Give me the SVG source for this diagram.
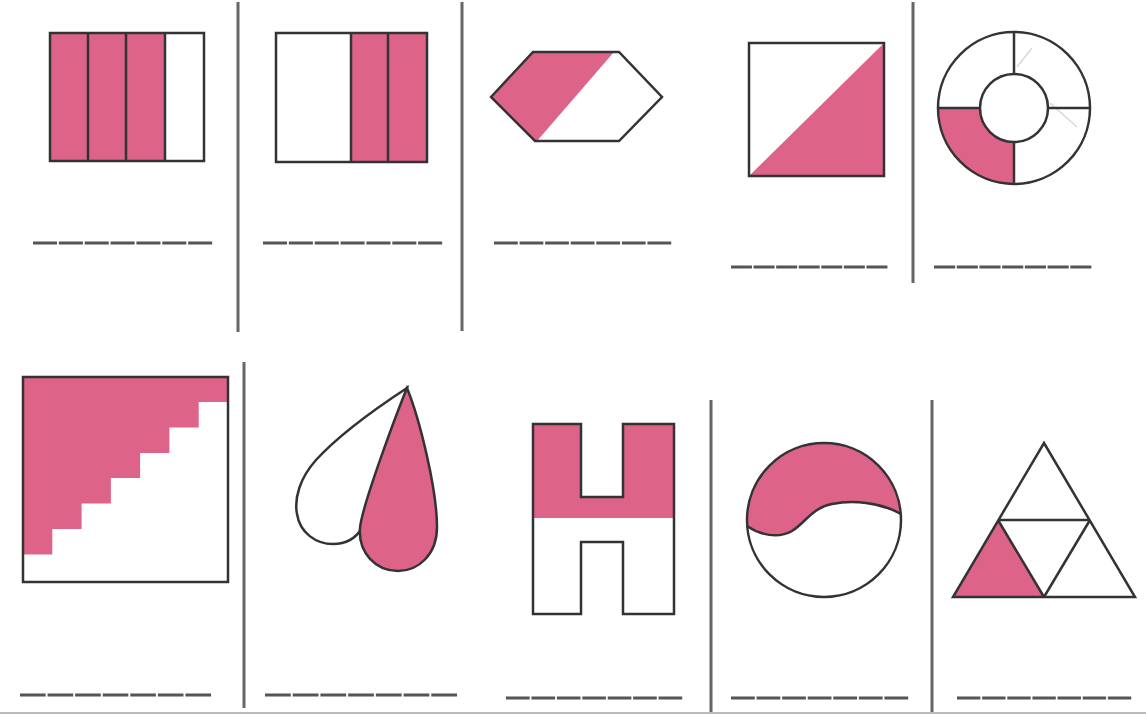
<svg xmlns="http://www.w3.org/2000/svg" width="1146" height="717" viewBox="0 0 1146 717">
<style>
.o{fill:none;stroke:#333;stroke-width:2.5;stroke-linejoin:miter}
.w{fill:#fff}
.p{fill:#DE6389}
.sep{stroke:#666;stroke-width:3}
.ans{stroke:#555;stroke-width:3;stroke-dasharray:0.93 0.07}
.faint{stroke:#d8d8d8;stroke-width:1.5}
</style>
<rect width="1146" height="717" fill="#fff"/>
<g id="separators">
<line class="sep" x1="238" y1="2" x2="238" y2="332"/>
<line class="sep" x1="462" y1="2" x2="462" y2="331"/>
<line class="sep" x1="913" y1="2" x2="913" y2="283"/>
<line class="sep" x1="244" y1="362" x2="244" y2="708"/>
<line class="sep" x1="711" y1="400" x2="711" y2="713"/>
<line class="sep" x1="932" y1="400" x2="932" y2="713"/>
<line x1="0" y1="713" x2="1146" y2="713" stroke="#bbb" stroke-width="2"/>
</g>
<g id="answer-lines">
<line class="ans" pathLength="7" x1="33" y1="243" x2="214" y2="243"/>
<line class="ans" pathLength="7" x1="263" y1="243" x2="444" y2="243"/>
<line class="ans" pathLength="7" x1="494" y1="243" x2="673" y2="243"/>
<line class="ans" pathLength="7" x1="731" y1="267" x2="889" y2="267"/>
<line class="ans" pathLength="7" x1="934" y1="267" x2="1093" y2="267"/>
<line class="ans" pathLength="7" x1="20" y1="695" x2="213" y2="695"/>
<line class="ans" pathLength="7" x1="265" y1="695" x2="459" y2="695"/>
<line class="ans" pathLength="7" x1="506" y1="698" x2="684" y2="698"/>
<line class="ans" pathLength="7" x1="731" y1="698" x2="910" y2="698"/>
<line class="ans" pathLength="7" x1="957" y1="698" x2="1133" y2="698"/>
</g>
<g id="fig1-bars">
<rect class="p" x="50" y="33" width="115" height="128"/>
<rect class="o" x="50" y="33" width="154" height="128"/>
<line class="o" x1="88" y1="33" x2="88" y2="161"/>
<line class="o" x1="126" y1="33" x2="126" y2="161"/>
<line class="o" x1="165" y1="33" x2="165" y2="161"/>
</g>
<g id="fig2-bars">
<rect class="p" x="351" y="33" width="76" height="129"/>
<rect class="o" x="276" y="33" width="151" height="129"/>
<line class="o" x1="351" y1="33" x2="351" y2="162"/>
<line class="o" x1="388" y1="33" x2="388" y2="162"/>
</g>
<g id="fig3-hexagon">
<polygon class="w" points="491,97 533,52 619,52 662,97 619,141 535,141"/>
<polygon class="p" points="491,97 533,52 614,52 537,141 535,141"/>
<polygon class="o" points="491,97 533,52 619,52 662,97 619,141 535,141"/>
</g>
<g id="fig4-square">
<polygon class="p" points="749,176 884,43 884,176"/>
<rect class="o" x="749" y="43" width="135" height="133"/>
</g>
<g id="fig5-ring">
<line class="faint" x1="1017" y1="67" x2="1032" y2="48"/>
<line class="faint" x1="1050" y1="103" x2="1077" y2="127"/>
<path class="p" d="M938,108 L980,108 A34,34 0 0 0 1014,142 L1014,184 A76,76 0 0 1 938,108 Z"/>
<circle class="o" cx="1014" cy="108" r="76"/>
<circle class="o" cx="1014" cy="108" r="34"/>
<line class="o" x1="1014" y1="32" x2="1014" y2="74"/>
<line class="o" x1="1014" y1="142" x2="1014" y2="184"/>
<line class="o" x1="938" y1="108" x2="980" y2="108"/>
<line class="o" x1="1048" y1="108" x2="1090" y2="108"/>
</g>
<g id="fig6-stairs">
<path class="p" d="M23,377 L228,377 L228,402 L198.7,402 L198.7,427.5 L169.4,427.5 L169.4,453 L140.1,453 L140.1,478 L110.9,478 L110.9,503.5 L81.6,503.5 L81.6,529 L52.3,529 L52.3,554.5 L23,554.5 Z"/>
<rect class="o" x="23" y="377" width="205" height="205"/>
</g>
<g id="fig7-drops">
<path class="o w" d="M407,388 C378,407 338,436 316,460 C300,478 294,498 297,514 C300,533 316,544 333,544 C347,544 356,538 362,528 Z"/>
<path class="o p" d="M407,388 C420,420 437,490 437,527 C437,555 418,571 398,571 C376,571 358,553 360,528 C362,505 398,410 407,388 Z"/>
</g>
<g id="fig8-H">
<path class="p" d="M533,424 L581,424 L581,497 L623,497 L623,424 L674,424 L674,518 L533,518 Z"/>
<path class="o" d="M533,424 L581,424 L581,497 L623,497 L623,424 L674,424 L674,614 L623,614 L623,542 L581,542 L581,614 L533,614 Z"/>
</g>
<g id="fig9-circle">
<path class="p" d="M747,526 C760,535 778,539 792,531 C805,523 812,508 832,504 C852,500 880,502 901,514 A77,77 0 0 0 747,526 Z"/>
<path class="o" d="M747,526 C760,535 778,539 792,531 C805,523 812,508 832,504 C852,500 880,502 901,514"/>
<circle class="o" cx="824" cy="520" r="77"/>
</g>
<g id="fig10-triangle">
<polygon class="p" points="953,597 998,520 1044,597"/>
<polygon class="o" points="1044,443 1135,597 953,597"/>
<line class="o" x1="998" y1="520" x2="1090" y2="520"/>
<line class="o" x1="998" y1="520" x2="1044" y2="597"/>
<line class="o" x1="1090" y1="520" x2="1044" y2="597"/>
</g>
</svg>
